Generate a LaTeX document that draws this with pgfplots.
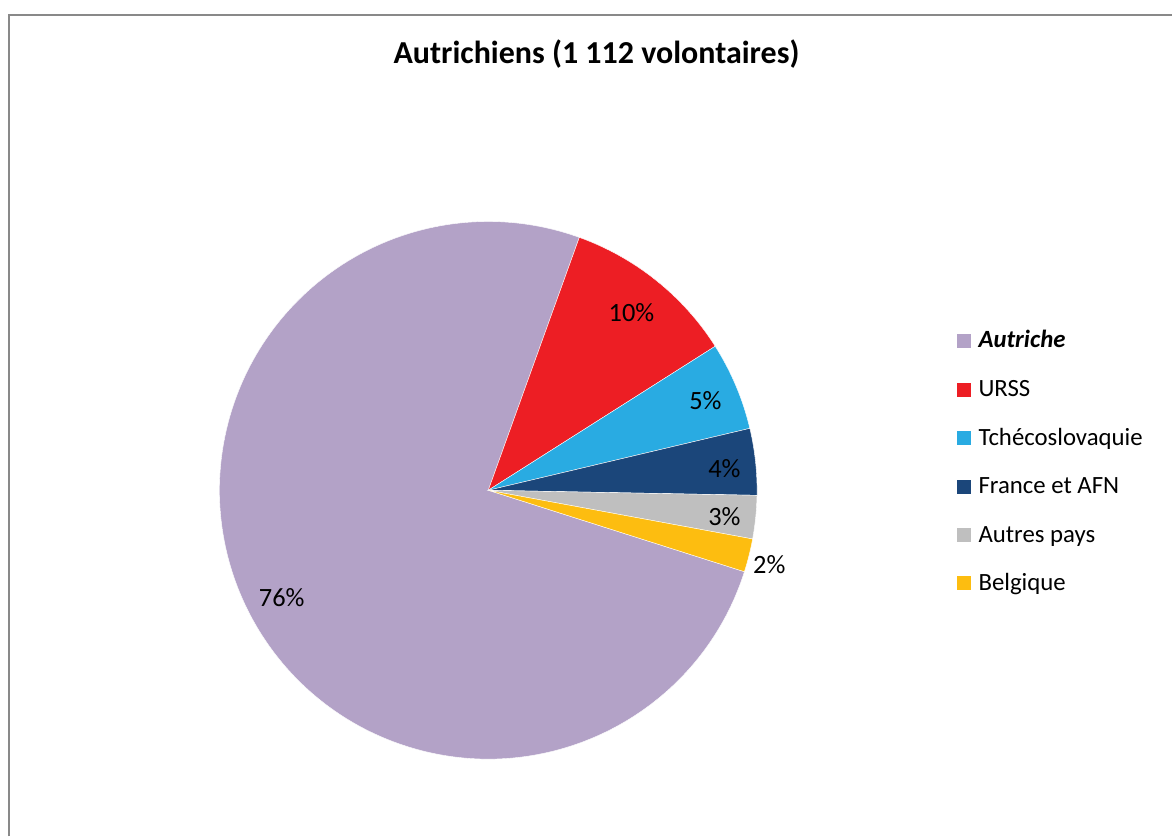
\documentclass[border=0pt]{standalone}
\usepackage{pgfplots}
\pgfplotsset{compat=1.18}
\usepackage{pgfplotstable}
\usepackage{fontspec}
\setmainfont{Carlito}
\definecolor{cAut}{RGB}{179,162,199}
\definecolor{cURSS}{RGB}{237,30,36}
\definecolor{cTch}{RGB}{41,171,226}
\definecolor{cFra}{RGB}{27,70,122}
\definecolor{cAutres}{RGB}{191,191,191}
\definecolor{cBel}{RGB}{253,189,16}
\definecolor{frame}{RGB}{137,137,137}
% slice values (percent), in Excel order (clockwise)
\pgfplotstableread{
value col
75.6 cAut
10.5 cURSS
5.3 cTch
4.0 cFra
2.6 cAutres
2.0 cBel
}\pietable
\newcommand\cumul{0}
\begin{document}
\begin{tikzpicture}
\begin{axis}[x=0.5pt,y=0.5pt,xmin=0,xmax=1173,ymin=0,ymax=837,
  hide axis,scale only axis,clip=false,anchor=origin,at={(0,0)}]
\fill[white] (axis cs:0,0) rectangle (axis cs:1173,837);
\draw[frame,line width=1pt] (axis cs:9,0) -- (axis cs:9,822) -- (axis cs:1173,822);
\pgfplotsinvokeforeach{0,...,5}{%
  \pgfplotstablegetelem{#1}{value}\of\pietable\let\v\pgfplotsretval
  \pgfplotstablegetelem{#1}{col}\of\pietable\let\c\pgfplotsretval
  \pgfmathsetmacro\sa{90-107.64-3.6*\cumul}%
  \pgfmathsetmacro\ea{\sa-3.6*\v}%
  \pgfmathsetmacro\nc{\cumul+\v}\xdef\cumul{\nc}%
  \edef\tmp{\noexpand\fill[\c,draw=white,line width=0.2pt] (axis cs:488.7,346.3) -- ++(\sa:134.5pt) arc[start angle=\sa,end angle=\ea,radius=134.5pt] -- cycle;}\tmp
}
% data labels
\begin{scope}[font=\fontsize{13.2}{15}\selectfont]
\node[anchor=base] at (axis cs:632,515) {10\%};
\node[anchor=base] at (axis cs:706,427) {5\%};
\node[anchor=base] at (axis cs:725,359) {4\%};
\node[anchor=base] at (axis cs:725,311) {3\%};
\node[anchor=base] at (axis cs:770,263) {2\%};
\node[anchor=base] at (axis cs:282,230) {76\%};
\end{scope}
% title
\node[anchor=base,font=\bfseries\fontsize{16}{19}\selectfont] at (axis cs:597,773) {Autrichiens (1 112 volontaires)};
% legend
\begin{scope}[font=\fontsize{12.4}{14}\selectfont]
\fill[cAut] (axis cs:958,489) rectangle (axis cs:972,503);
\node[anchor=base west,inner sep=0pt] at (axis cs:979,489) {\textbf{\textit{Autriche}}};
\fill[cURSS] (axis cs:958,440) rectangle (axis cs:972,454);
\node[anchor=base west,inner sep=0pt] at (axis cs:979,440) {URSS};
\fill[cTch] (axis cs:958,391.5) rectangle (axis cs:972,405.5);
\node[anchor=base west,inner sep=0pt] at (axis cs:979,391.5) {Tchécoslovaquie};
\fill[cFra] (axis cs:958,343) rectangle (axis cs:972,357);
\node[anchor=base west,inner sep=0pt] at (axis cs:979,343) {France et AFN};
\fill[cAutres] (axis cs:958,294.5) rectangle (axis cs:972,308.5);
\node[anchor=base west,inner sep=0pt] at (axis cs:979,294.5) {Autres pays};
\fill[cBel] (axis cs:958,246) rectangle (axis cs:972,260);
\node[anchor=base west,inner sep=0pt] at (axis cs:979,246) {Belgique};
\end{scope}
\end{axis}
\end{tikzpicture}
\end{document}
